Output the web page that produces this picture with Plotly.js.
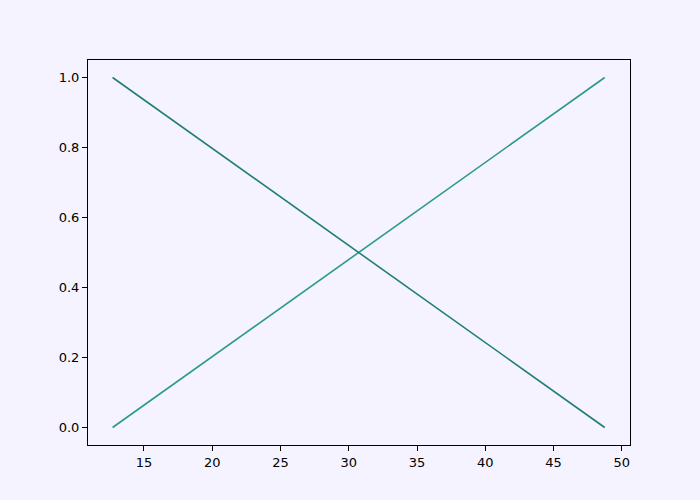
<!DOCTYPE html>
<html>
<head>
<meta charset="utf-8">
<script src="https://cdn.plot.ly/plotly-3.0.1.min.js"></script>
<style>html,body{margin:0;padding:0;background:#f4f3ff;}</style>
</head>
<body>
<div id="chart" style="width:700px;height:500px;"></div>
<script>
const xValues = [12.7, 48.75];
const risingValues = [0.0, 1.0];
const fallingValues = [1.0, 0.0];
const xTicks = [15, 20, 25, 30, 35, 40, 45, 50];
const yTicks = [0.0, 0.2, 0.4, 0.6, 0.8, 1.0];

const traces = [
  {x: xValues, y: risingValues, mode: 'lines', line: {color: '#2a9a8b', width: 1.6}, hoverinfo: 'skip'},
  {x: xValues, y: fallingValues, mode: 'lines', line: {color: '#1f7e78', width: 1.6}, hoverinfo: 'skip'}
];

const axisCommon = {
  showgrid: false, zeroline: false, showline: true, mirror: true,
  linecolor: '#000', linewidth: 1, ticks: 'outside', ticklen: 5, tickwidth: 1,
  tickcolor: '#000', tickfont: {family: 'DejaVu Sans', size: 13, color: '#000'}
};

const layout = {
  width: 700, height: 500,
  paper_bgcolor: '#f4f3ff', plot_bgcolor: '#f4f3ff',
  margin: {l: 88, r: 70, t: 60, b: 55},
  showlegend: false,
  xaxis: Object.assign({}, axisCommon, {range: [10.9, 50.6], tickvals: xTicks, ticktext: xTicks.map(String)}),
  yaxis: Object.assign({}, axisCommon, {range: [-0.05, 1.05], tickvals: yTicks, ticktext: yTicks.map(v => v.toFixed(1))})
};

Plotly.newPlot('chart', traces, layout, {staticPlot: true, displayModeBar: false});
</script>
</body>
</html>
